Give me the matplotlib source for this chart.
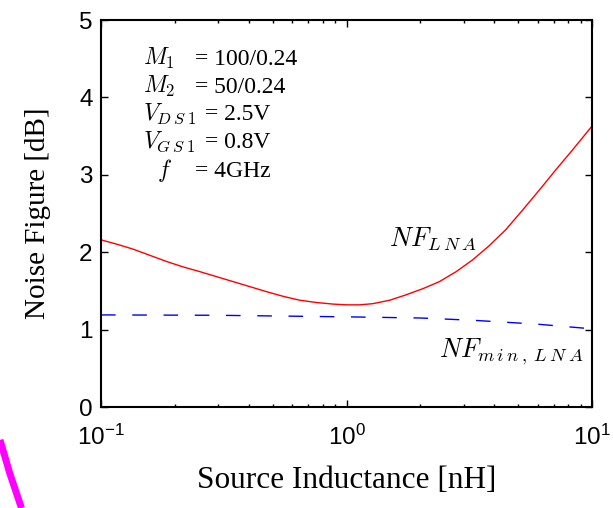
import matplotlib
matplotlib.use("Agg")
import matplotlib.pyplot as plt
from matplotlib.lines import Line2D
from matplotlib.ticker import LogLocator, NullFormatter

plt.rcParams["font.family"] = "Liberation Sans"
plt.rcParams["mathtext.fontset"] = "cm"

# source inductance [nH] and noise figure [dB]
l_lna = [0.1, 0.117, 0.135, 0.158, 0.185, 0.216, 0.252, 0.295, 0.345, 0.404, 0.472,
         0.552, 0.644, 0.755, 0.879, 1.0, 1.13, 1.28, 1.5, 1.75, 2.05, 2.39, 2.8,
         3.26, 3.8, 4.45, 5.2, 6.09, 7.1, 8.32, 10.0]
nf_lna = [2.16, 2.10, 2.04, 1.96, 1.88, 1.81, 1.75, 1.685, 1.62, 1.555, 1.49,
          1.43, 1.38, 1.35, 1.33, 1.32, 1.32, 1.335, 1.38, 1.45, 1.53, 1.62, 1.75,
          1.90, 2.08, 2.29, 2.54, 2.80, 3.06, 3.32, 3.63]

l_min = [0.1, 0.3, 1.0, 2.0, 3.3, 6.0, 10.0]
nf_min = [1.19, 1.185, 1.165, 1.15, 1.12, 1.07, 1.01]

param_names = [r"$M_1$", r"$M_2$", r"$V_{D\:S\:1}$", r"$V_{G\:S\:1}$", r"$f$"]
param_values = ["= 100/0.24", "= 50/0.24", "= 2.5V", "= 0.8V", "= 4GHz"]

fig = plt.figure(figsize=(6.13, 5.08), dpi=100)
ax = fig.add_axes([0.1648, 0.1988, 0.8010, 0.7618])

ax.plot(l_lna, nf_lna, color="red", lw=1.0)
ax.plot(l_min, nf_min, color="blue", lw=1.0, dashes=(10.5, 12))

ax.set_xscale("log")
ax.set_xlim(0.1, 10)
ax.set_ylim(0, 5)
ax.set_xticks([0.1, 1, 10])
ax.set_yticks([0, 1, 2, 3, 4, 5])
ax.xaxis.set_minor_locator(LogLocator(base=10, subs=range(2, 10)))
ax.xaxis.set_minor_formatter(NullFormatter())
ax.tick_params(which="both", direction="in", top=True, right=True,
               labelsize=17.5, width=1.0)
ax.tick_params(which="major", length=5)
ax.tick_params(which="minor", length=2.5)
ax.tick_params(axis="x", pad=13)
ax.tick_params(axis="y", pad=6)
for s in ax.spines.values():
    s.set_linewidth(1.5)

ax.set_xlabel("Source Inductance [nH]", family="Liberation Serif", fontsize=22.5, labelpad=11)
ax.set_ylabel("Noise Figure [dB]", family="Liberation Serif", fontsize=21, labelpad=20)

name_x = [0.086, 0.086, 0.086, 0.086, 0.114]
value_x = [0.191, 0.191, 0.212, 0.212, 0.191]
row_y = [0.884, 0.811, 0.742, 0.669, 0.594]
for nm, val, nx, vx, y in zip(param_names, param_values, name_x, value_x, row_y):
    ax.text(nx, y, nm, transform=ax.transAxes, fontsize=17, va="baseline")
    ax.text(vx, y, val, transform=ax.transAxes, fontsize=17,
            family="Liberation Serif", va="baseline")

ax.text(0.587, 0.416, r"$NF_{L\:N\:A}$", transform=ax.transAxes, fontsize=19,
        va="baseline")
ax.text(0.982, 0.129, r"$NF_{m\:i\:n\:,\:L\:N\:A}$", transform=ax.transAxes,
        fontsize=19, va="baseline", ha="right")

# stray magenta stroke in the lower-left corner of the original image
fig.add_artist(Line2D([0.0, 0.016, 0.035], [0.134, 0.068, 0.0],
                      transform=fig.transFigure, color="magenta", lw=5,
                      solid_capstyle="butt"))

fig.savefig("out.png", dpi=100)
